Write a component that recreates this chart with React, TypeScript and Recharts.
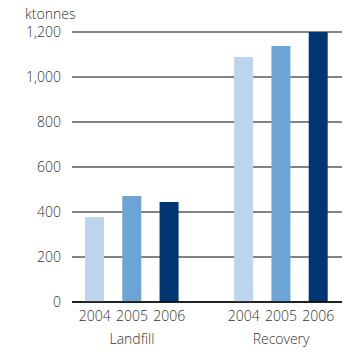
import React from "react";
import { Bar, BarChart, CartesianGrid, Cell, XAxis, YAxis } from "recharts";

// årstall og grupper
const years = ["2004", "2005", "2006"];
const groups = ["Landfill", "Recovery"];
const landfill = [378, 471, 444];
const recovery = [1089, 1138, 1200];
const yTicks = [0, 200, 400, 600, 800, 1000, 1200];
const yearColors = ["#BDD5EC", "#6CA4D6", "#003672"];

const FONT = "'Open Sans', sans-serif";
const FS = 14;

type Row = { key: string; year: string; group: string; value: number | null; idx: number };

// bygg rader: tre år per gruppe, med et tomt mellomrom mellom gruppene
const rows: Row[] = [];
[landfill, recovery].forEach((serie, g) => {
  if (g > 0) rows.push({ key: `gap${g}`, year: "", group: "", value: null, idx: -1 });
  serie.forEach((v, i) => {
    rows.push({ key: `${groups[g]}-${years[i]}`, year: years[i], group: groups[g], value: v, idx: i });
  });
});

function KategoriTick(props: any) {
  const { x, y, payload } = props;
  const row = rows.find((r) => r.key === payload.value);
  if (!row || !row.year) return null;
  return (
    <g>
      <text x={x} y={y} dy={17} textAnchor="middle" fontSize={FS} fontWeight={300} fontFamily={FONT} fill="#333">
        {row.year}
      </text>
      {row.idx === 1 && (
        <text x={x} y={y} dy={40} textAnchor="middle" fontSize={FS} fontWeight={300} fontFamily={FONT} fill="#333">
          {row.group}
        </text>
      )}
    </g>
  );
}

export default function App() {
  return (
    <div style={{ position: "absolute", left: 0, top: 0, width: 347, height: 354, background: "#fff" }}>
      <div
        style={{
          position: "absolute",
          left: 25,
          top: 4,
          fontFamily: FONT,
          fontSize: FS,
          fontWeight: 300,
          color: "#333",
        }}
      >
        ktonnes
      </div>
      <BarChart
        width={347}
        height={354}
        data={rows}
        margin={{ top: 32, right: 5, bottom: 0, left: 0 }}
        barCategoryGap={0}
      >
        <CartesianGrid vertical={false} stroke="#5a5a5a" strokeWidth={1.5} />
        <XAxis
          dataKey="key"
          interval={0}
          height={52}
          tickLine={false}
          tickSize={0}
          tickMargin={2}
          axisLine={{ stroke: "#000", strokeWidth: 1.5 }}
          padding={{ left: 4, right: 5 }}
          tick={<KategoriTick />}
        />
        <YAxis
          domain={[0, 1200]}
          ticks={yTicks}
          width={72}
          axisLine={false}
          tickLine={false}
          tickSize={0}
          tickMargin={11}
          tickFormatter={(v: number) => v.toLocaleString("en-US")}
          tick={{ fontSize: FS, fontWeight: 300, fontFamily: FONT, fill: "#333" }}
        />
        <Bar dataKey="value" barSize={19} isAnimationActive={false}>
          {rows.map((r) => (
            <Cell key={r.key} fill={r.idx >= 0 ? yearColors[r.idx] : "transparent"} />
          ))}
        </Bar>
      </BarChart>
    </div>
  );
}
